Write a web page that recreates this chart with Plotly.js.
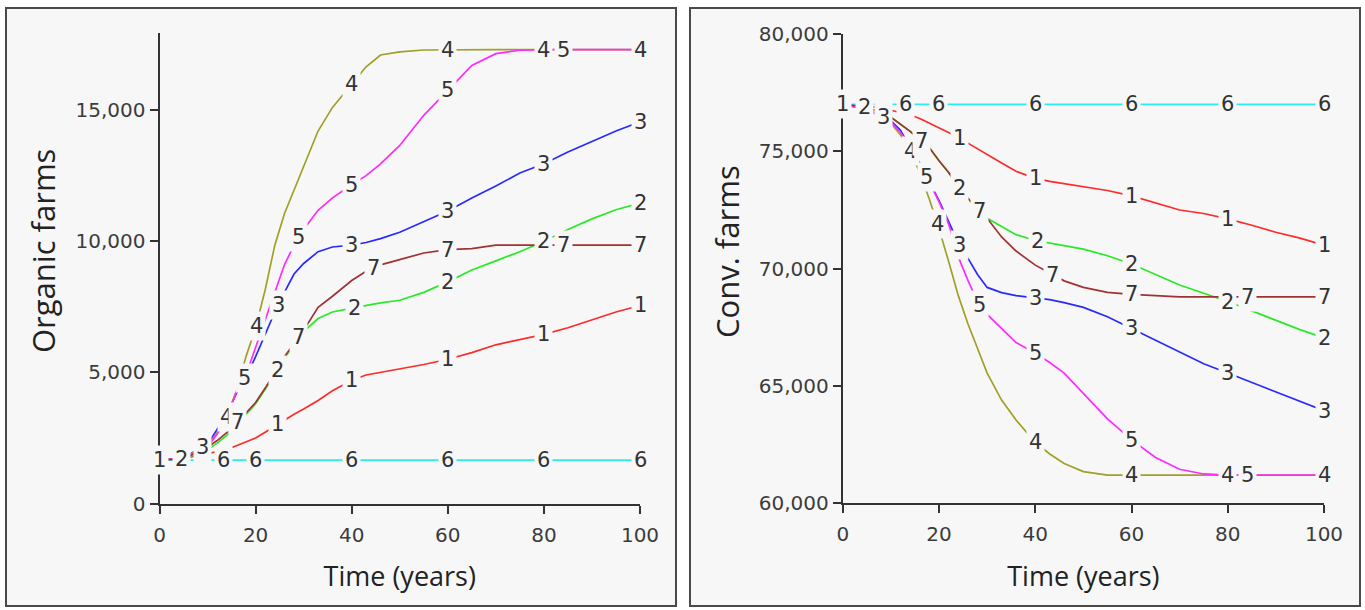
<!DOCTYPE html>
<html>
<head>
<meta charset="utf-8">
<script src="https://cdn.plot.ly/plotly-3.0.1.min.js"></script>
<style>html,body{margin:0;padding:0;background:#fff;}#chart{width:1365px;height:610px;}</style>
</head>
<body>
<div id="chart"></div>
<script>
// ---------- DATA ----------
const time = [0, 5, 10, 12, 14, 16, 18, 20, 22, 24, 26, 28, 30, 33, 36, 40, 43, 46, 50, 55, 60, 65, 70, 75, 80, 85, 90, 95, 100];
const seriesNames = ["1", "2", "3", "4", "5", "6", "7"];

// Organic farms (left panel)
const organic1 = [1650,1720,1900,1980,2060,2200,2350,2500,2720,2950,3200,3400,3600,3930,4300,4700,4900,5000,5130,5300,5500,5750,6050,6250,6450,6700,7000,7300,7550];
const organic2 = [1650,1700,2050,2300,2600,2950,3400,3800,4350,4950,5550,6050,6550,7050,7300,7450,7560,7650,7750,8050,8450,8900,9250,9600,10000,10450,10850,11200,11450];
const organic3 = [1650,1750,2250,2800,3400,4200,4800,5600,6450,7300,8050,8750,9150,9600,9780,9850,9950,10100,10340,10750,11150,11650,12100,12600,12950,13400,13800,14200,14550];
const organic4 = [1650,1750,2200,2700,3300,4300,5600,6700,8150,9850,11050,11950,12900,14200,15100,16000,16650,17100,17220,17290,17300,17300,17300,17300,17300,17300,17300,17300,17300];
const organic5 = [1650,1750,2150,2650,3300,4250,4900,5950,7050,8050,9100,9850,10450,11180,11650,12150,12500,12950,13650,14800,15760,16700,17150,17280,17300,17300,17300,17300,17300];
const organic6 = [1650,1650,1650,1650,1650,1650,1650,1650,1650,1650,1650,1650,1650,1650,1650,1650,1650,1650,1650,1650,1650,1650,1650,1650,1650,1650,1650,1650,1650];
const organic7 = [1650,1700,2150,2400,2700,3050,3450,3850,4400,5000,5600,6100,6600,7480,7900,8500,8850,9100,9300,9550,9680,9720,9850,9850,9850,9850,9850,9850,9850];

// Conventional farms (right panel)
const conv1 = [77000,76950,76750,76650,76550,76400,76200,76000,75800,75600,75350,75100,74850,74500,74150,73850,73720,73620,73500,73330,73100,72800,72500,72350,72120,71850,71550,71300,71000];
const conv2 = [77000,76900,76450,76150,75850,75500,75150,74600,74100,73500,73000,72550,72150,71800,71450,71200,71100,70980,70830,70550,70200,69750,69300,68950,68600,68200,67800,67400,67050];
const conv3 = [77000,76800,76300,75900,75150,74500,73700,72900,72000,71100,70450,69750,69200,68980,68850,68750,68680,68550,68350,67950,67450,66950,66450,65950,65550,65150,64750,64350,63950];
const conv4 = [77000,76800,76200,75700,75000,74100,72950,71700,70300,68850,67650,66600,65550,64400,63550,62600,62100,61700,61350,61200,61200,61200,61200,61200,61200,61200,61200,61200,61200];
const conv5 = [77000,76800,76250,75800,75200,74400,73700,72850,71900,70500,69500,68600,68050,67450,66850,66400,66000,65550,64700,63600,62700,61950,61450,61250,61200,61200,61200,61200,61200];
const conv6 = [77000,77000,77000,77000,77000,77000,77000,77000,77000,77000,77000,77000,77000,77000,77000,77000,77000,77000,77000,77000,77000,77000,77000,77000,77000,77000,77000,77000,77000];
const conv7 = [77000,76900,76450,76150,75850,75500,75150,74600,74100,73500,73000,72550,72150,71350,70750,70150,69800,69480,69200,68990,68900,68850,68800,68800,68800,68800,68800,68800,68800];

// Times at which the series number labels sit on each line
const organicLabelTimes = [
  [0, 24.5, 40, 60, 80, 100],
  [4.6, 24.5, 40.5, 60, 80, 100],
  [9, 24.7, 40, 60, 80, 100],
  [14, 20.1, 40, 60, 80, 100],
  [17.6, 29, 40, 60, 84],
  [13.3, 20, 40, 60, 80, 100],
  [16.3, 29, 44.6, 60, 84, 100]
];
const convLabelTimes = [
  [0, 24.3, 40, 60, 80, 100],
  [4.5, 24.3, 40.5, 60, 80, 100],
  [8.5, 24.3, 40, 60, 80, 100],
  [14, 19.7, 40, 60, 80, 100],
  [17.4, 28.5, 40, 60, 84],
  [13, 19.8, 40, 60, 80, 100],
  [16.3, 28.5, 43.6, 60, 84, 100]
];

const xTicks = [0, 20, 40, 60, 80, 100];
const organicTicks = [0, 5000, 10000, 15000];
const convTicks = [60000, 65000, 70000, 75000, 80000];
const xTitle = "Time (years)";
const organicTitle = "Organic farms";
const convTitle = "Conv. farms";

// ---------- STYLE ----------
const colors = ["#ff2a2a", "#2ae82a", "#2a2aff", "#a0a028", "#ff2aff", "#2aeeee", "#a03232"];
const panelBg = "#f7f7f7";
const W = 1365, H = 610;

function interp(xs, ys, x) {
  if (x <= xs[0]) return ys[0];
  for (let i = 1; i < xs.length; i++) {
    if (x <= xs[i]) {
      const f = (x - xs[i-1]) / (xs[i] - xs[i-1]);
      return ys[i-1] + f * (ys[i] - ys[i-1]);
    }
  }
  return ys[ys.length - 1];
}

const organic = [organic1, organic2, organic3, organic4, organic5, organic6, organic7];
const conv = [conv1, conv2, conv3, conv4, conv5, conv6, conv7];

const traces = [];
const annotations = [];
function addPanel(series, labelTimes, xa, ya) {
  series.forEach((ys, i) => {
    traces.push({
      x: time, y: ys, xaxis: xa, yaxis: ya, type: "scatter", mode: "lines",
      name: seriesNames[i], line: {color: colors[i], width: 1.7}, hoverinfo: "x+y+name"
    });
    labelTimes[i].forEach(tx => {
      annotations.push({
        xref: xa, yref: ya, x: tx, y: interp(time, ys, tx), text: seriesNames[i],
        showarrow: false, bgcolor: panelBg, borderpad: 2,
        font: {family: "DejaVu Sans", size: 21, color: "#333"}
      });
    });
  });
}
addPanel(organic, organicLabelTimes, "x", "y");
addPanel(conv, convLabelTimes, "x2", "y2");

// vertical axis titles (placed as rotated text to match the original's position)
const yTitleFont = {family: "Open Sans", size: 31, color: "#222"};
annotations.push({xref: "paper", yref: "paper", x: 43 / W, y: 1 - 251 / H, text: organicTitle,
  textangle: -90, showarrow: false, xanchor: "center", yanchor: "middle", font: yTitleFont});
annotations.push({xref: "paper", yref: "paper", x: 727 / W, y: 1 - 252 / H, text: convTitle,
  textangle: -90, showarrow: false, xanchor: "center", yanchor: "middle", font: yTitleFont});

const tickFont = {family: "DejaVu Sans", size: 20, color: "#3c3c3c"};
const titleFont = {family: "Open Sans", size: 27, color: "#222"};

function xAxis(domain) {
  return {
    domain: domain, range: [0, 100], tickmode: "array", tickvals: xTicks,
    ticks: "outside", ticklen: 8, tickwidth: 2, tickcolor: "#333", ticklabelstandoff: 4,
    showline: true, linecolor: "#333", linewidth: 2, showgrid: false, zeroline: false,
    tickfont: tickFont, automargin: false, fixedrange: true,
    title: {text: xTitle, font: titleFont, standoff: 22}
  };
}
function yAxis(domain, range, ticks) {
  return {
    domain: domain, range: range, tickmode: "array", tickvals: ticks, tickformat: ",d",
    ticks: "outside", ticklen: 8, tickwidth: 2, tickcolor: "#333",
    showline: true, linecolor: "#333", linewidth: 2, showgrid: false, zeroline: false,
    tickfont: tickFont, automargin: false, fixedrange: true
  };
}

const layout = {
  width: W, height: H,
  margin: {l: 0, r: 0, t: 0, b: 0},
  paper_bgcolor: "#ffffff", plot_bgcolor: "rgba(0,0,0,0)",
  showlegend: false,
  xaxis: xAxis([159.5 / W, 640 / W]),
  yaxis: yAxis([1 - 503.5 / H, 1 - 33.3 / H], [0, 17926], organicTicks),
  xaxis2: Object.assign(xAxis([842.8 / W, 1324 / W]), {anchor: "y2"}),
  yaxis2: Object.assign(yAxis([1 - 503.3 / H, 1 - 34 / H], [60000, 80000], convTicks), {anchor: "x2"}),
  shapes: [
    {type: "rect", xref: "paper", yref: "paper", x0: 6 / W, x1: 676 / W, y0: 1 - 606 / H, y1: 1 - 8 / H,
     fillcolor: panelBg, line: {color: "#4a4a4a", width: 2}, layer: "below"},
    {type: "rect", xref: "paper", yref: "paper", x0: 690 / W, x1: 1360 / W, y0: 1 - 606 / H, y1: 1 - 8 / H,
     fillcolor: panelBg, line: {color: "#4a4a4a", width: 2}, layer: "below"}
  ],
  annotations: annotations
};
layout.xaxis.anchor = "y";
layout.yaxis.anchor = "x";

Plotly.newPlot("chart", traces, layout, {displayModeBar: false, staticPlot: true});
</script>
</body>
</html>
